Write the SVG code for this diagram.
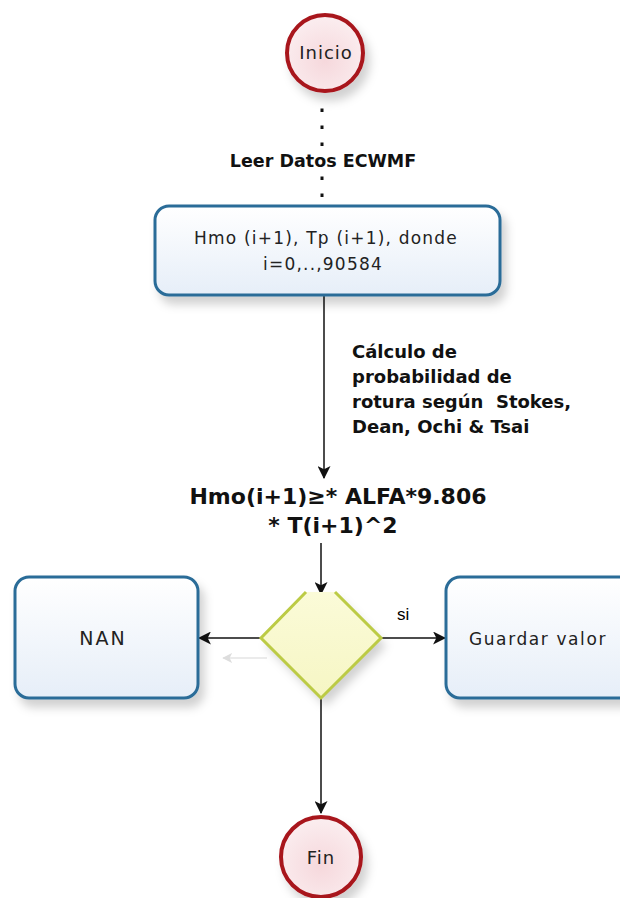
<svg xmlns="http://www.w3.org/2000/svg" width="620" height="898" viewBox="0 0 620 898">
<defs>
<style>
.txt{font-family:"DejaVu Sans","Liberation Sans",sans-serif;fill:#222}
.bold{font-family:"DejaVu Sans","Liberation Sans",sans-serif;font-weight:bold;fill:#111}
.conn{stroke:#111;stroke-width:1.5;fill:none}
.box{fill:url(#boxg);stroke:#2b6c98;stroke-width:3}
.term{fill:url(#termg);stroke:#a8141c;stroke-width:4}
</style>
<linearGradient id="boxg" x1="0" y1="0" x2="0" y2="1"><stop offset="0" stop-color="#ffffff"/><stop offset="1" stop-color="#e6eef8"/></linearGradient>
<radialGradient id="termg" cx="0.5" cy="0.6" r="0.6"><stop offset="0" stop-color="#f6d8dc"/><stop offset="1" stop-color="#fbeef0"/></radialGradient>
<linearGradient id="decg" x1="0" y1="0" x2="0" y2="1"><stop offset="0" stop-color="#fbfbd8"/><stop offset="1" stop-color="#f6f6c4"/></linearGradient>
<filter id="sh" x="-20%" y="-20%" width="150%" height="160%"><feDropShadow dx="5" dy="8" stdDeviation="5" flood-color="#000" flood-opacity="0.18"/></filter>
<marker id="arr" viewBox="0 0 12 12" refX="11" refY="6" markerWidth="13" markerHeight="13" markerUnits="userSpaceOnUse" orient="auto"><path d="M0,0 L12,6 L0,12 L3,6 Z" fill="#111"/></marker>
<marker id="arrg" viewBox="0 0 12 12" refX="11" refY="6" markerWidth="10" markerHeight="10" markerUnits="userSpaceOnUse" orient="auto"><path d="M0,0 L12,6 L0,12 L3,6 Z" fill="#ddd"/></marker>
</defs>
<rect width="620" height="898" fill="#fff"/>
<g id="connectors">
<line x1="322" y1="110" x2="322" y2="204" stroke="#111" stroke-width="3" stroke-dasharray="0.5,16.5" stroke-linecap="square"/>
<line class="conn" x1="324" y1="296" x2="324" y2="478" marker-end="url(#arr)"/>
<line class="conn" x1="321" y1="543" x2="321" y2="594" marker-end="url(#arr)"/>
<line class="conn" x1="261" y1="638" x2="199" y2="638" marker-end="url(#arr)"/>
<line x1="267" y1="658" x2="223" y2="658" stroke="#e4e4e4" stroke-width="1.5" marker-end="url(#arrg)"/>
<line class="conn" x1="381" y1="638" x2="445" y2="638" marker-end="url(#arr)"/>
<line class="conn" x1="321" y1="698" x2="321" y2="813" marker-end="url(#arr)"/>
</g>
<g id="lbl-leer"><rect x="228" y="148" width="196" height="24" fill="#fff"/><text class="bold" x="323" y="167" font-size="17.5" text-anchor="middle">Leer Datos ECWMF</text></g>
<g id="lbl-calc" class="bold" font-size="18">
<text x="352" y="358">Cálculo de</text>
<text x="352" y="383">probabilidad de</text>
<text x="352" y="408" xml:space="preserve">rotura según  Stokes,</text>
<text x="352" y="433">Dean, Ochi &amp; Tsai</text>
</g>
<g id="lbl-si"><text x="397" y="620" font-size="17" font-family="Liberation Sans,Arial,sans-serif" fill="#000">si</text></g>
<g id="inicio"><circle class="term" cx="325" cy="53" r="38" filter="url(#sh)"/><text class="txt" x="326" y="59" font-size="18" letter-spacing="1" text-anchor="middle">Inicio</text></g>
<g id="leer"><rect class="box" x="155" y="206" width="345" height="89" rx="14" filter="url(#sh)"/>
<text class="txt" x="326" y="244" font-size="17" letter-spacing="1.2" text-anchor="middle">Hmo (i+1), Tp (i+1), donde</text>
<text class="txt" x="323" y="270" font-size="17" letter-spacing="1.2" text-anchor="middle">i=0,..,90584</text></g>
<g id="cond"><text class="bold" x="338" y="504" font-size="22" text-anchor="middle">Hmo(i+1)≥* ALFA*9.806</text>
<text class="bold" x="333" y="533" font-size="22" text-anchor="middle">* T(i+1)^2</text></g>
<g id="decision"><path d="M306,592 L261,638 L321,698 L381,638 L335,592 Z" fill="url(#decg)" stroke="none" filter="url(#sh)"/>
<path d="M306,592 L261,638 L321,698 L381,638 L335,592" fill="none" stroke="#bccb45" stroke-width="3" stroke-linejoin="miter"/></g>
<g id="nan"><rect class="box" x="15" y="577" width="183" height="121" rx="14" filter="url(#sh)"/><text class="txt" x="103" y="645" font-size="19" letter-spacing="2" text-anchor="middle">NAN</text></g>
<g id="guardar"><rect class="box" x="446" y="577" width="190" height="121" rx="14" filter="url(#sh)"/><text class="txt" x="538" y="645" font-size="17" letter-spacing="1.6" text-anchor="middle">Guardar valor</text></g>
<g id="fin"><circle class="term" cx="321" cy="857" r="40" filter="url(#sh)"/><text class="txt" x="321" y="864" font-size="18" letter-spacing="1" text-anchor="middle">Fin</text></g>
</svg>
